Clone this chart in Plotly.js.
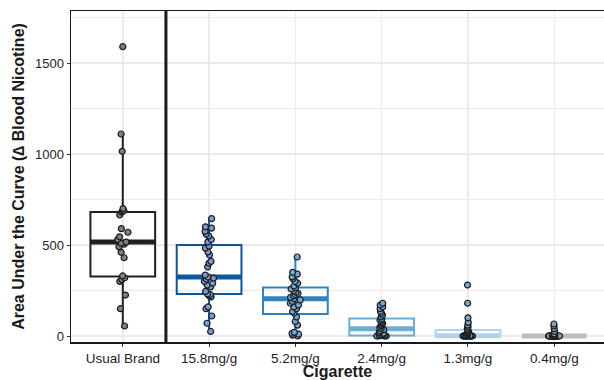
<!DOCTYPE html>
<html>
<head>
<meta charset="utf-8">
<script src="https://cdn.plot.ly/plotly-3.0.1.min.js"></script>
<style>html,body{margin:0;padding:0;overflow:hidden;background:#fff;}#chart{width:604px;height:380px;}</style>
</head>
<body>
<div id="chart"></div>
<script>
const categories = ['Usual Brand', '15.8mg/g', '5.2mg/g', '2.4mg/g', '1.3mg/g', '0.4mg/g'];
const usualBrand = [55, 150, 225, 300, 310, 320, 330, 430, 460, 490, 505, 510, 516, 530, 545, 570, 590, 665, 681, 685, 690, 700, 1015, 1110, 1590];
const nic158 = [25, 70, 110, 150, 160, 215, 222, 228, 231, 245, 270, 280, 290, 300, 312, 318, 324, 335, 380, 400, 410, 445, 462, 483, 494, 516, 530, 549, 560, 575, 593, 600, 645];
const nic52 = [0, 5, 10, 15, 20, 60, 80, 105, 126, 135, 150, 160, 170, 180, 190, 198, 205, 212, 220, 228, 235, 242, 250, 258, 264, 275, 290, 300, 315, 325, 340, 350, 434];
const nic24 = [0, 0, 0, 0, 2, 2, 3, 3, 3, 5, 8, 10, 15, 20, 28, 35, 40, 48, 55, 60, 68, 75, 82, 88, 93, 105, 115, 125, 135, 150, 160, 170, 180];
const nic13 = [0, 0, 0, 0, 0, 0, 0, 0, 0, 0, 0, 0, 0, 0, 0, 3, 5, 8, 12, 18, 22, 28, 33, 40, 50, 60, 75, 100, 180, 280];
const nic04 = [0, 0, 0, 0, 0, 0, 0, 0, 0, 0, 0, 0, 0, 0, 0, 0, 0, 0, 0, 0, 0, 0, 0, 0, 5, 12, 25, 40, 55, 66];

const series = [usualBrand, nic158, nic52, nic24, nic13, nic04];
const lineColors = ['#231f20', '#0c56a0', '#3182bd', '#6baed6', '#b3d3e8', '#bdbdbd'];
const pointFills = ['#7f7f7f', '#7b9bd6', '#74a6d8', '#6fa8cf', '#7aa8c8', '#8aa0b0'];

function median(arr) {
  const s = arr.slice().sort((a, b) => a - b);
  const n = s.length;
  return n % 2 ? s[(n - 1) / 2] : (s[n / 2 - 1] + s[n / 2]) / 2;
}

const traces = series.map((vals, i) => ({
  type: 'box',
  x: vals.map(() => i),
  y: vals,
  width: 0.75,
  boxpoints: 'all',
  jitter: 0.18,
  pointpos: 0,
  whiskerwidth: 0,
  quartilemethod: 'linear',
  fillcolor: 'rgba(255,255,255,0)',
  line: {color: lineColors[i], width: 2},
  marker: {size: 6, color: pointFills[i], line: {color: '#1a1a1a', width: 1.2}},
  hoverinfo: 'skip',
  showlegend: false
}));

const shapes = series.map((vals, i) => ({
  type: 'line', xref: 'x', yref: 'y', layer: 'between',
  x0: i - 0.375, x1: i + 0.375, y0: median(vals), y1: median(vals),
  line: {color: lineColors[i], width: 5}
}));
shapes.push({
  type: 'line', xref: 'x', yref: 'paper', layer: 'above',
  x0: 0.5, x1: 0.5, y0: 0, y1: 1,
  line: {color: '#1a1a1a', width: 3}
});

const titleFont = {size: 16, color: '#1a1a1a', family: 'Liberation Sans, Arial, sans-serif', weight: 'bold'};

const layout = {
  width: 604, height: 380,
  margin: {l: 71, r: 0, t: 11, b: 38},
  paper_bgcolor: '#fff', plot_bgcolor: '#fff',
  font: {family: 'Liberation Sans, Arial, sans-serif', size: 13, color: '#333'},
  showlegend: false,
  shapes: shapes,
  xaxis: {
    type: 'linear', range: [-0.6, 5.576],
    tickvals: categories.map((c, i) => i), ticktext: categories,
    showgrid: true, gridcolor: '#ebebeb', gridwidth: 1.5,
    zeroline: false,
    showline: true, linecolor: '#1a1a1a', linewidth: 1.5, mirror: true,
    ticks: 'outside', ticklen: 3, tickcolor: '#333', tickwidth: 1,
    tickfont: {size: 13.5, color: '#222'},
    title: {text: 'Cigarette', font: titleFont, standoff: 3}
  },
  yaxis: {
    range: [-33, 1786],
    tickvals: [0, 500, 1000, 1500],
    showgrid: true, gridcolor: '#ebebeb', gridwidth: 1.5,
    minor: {dtick: 250, tick0: 0, showgrid: true, gridcolor: '#ebebeb', gridwidth: 1.5},
    zeroline: false,
    showline: true, linecolor: '#1a1a1a', linewidth: 1.5, mirror: false,
    ticks: 'outside', ticklen: 3, tickcolor: '#333', tickwidth: 1,
    tickfont: {size: 13, color: '#222'},
    title: {text: 'Area Under the Curve (\u2206 Blood Nicotine)', font: titleFont, standoff: 6}
  }
};

Plotly.newPlot('chart', traces, layout, {staticPlot: true, displayModeBar: false});
</script>
</body>
</html>
